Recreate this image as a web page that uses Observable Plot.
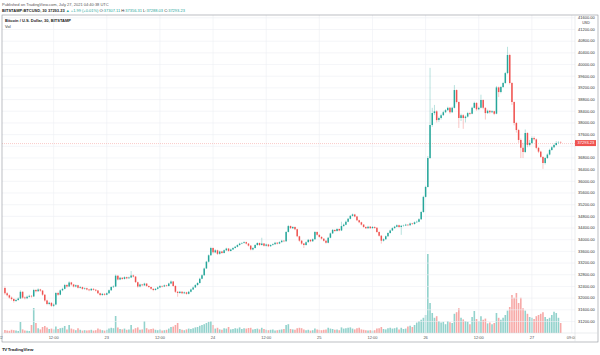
<!DOCTYPE html>
<html><head><meta charset="utf-8">
<script src="https://cdn.jsdelivr.net/npm/d3@7"></script>
<script src="https://cdn.jsdelivr.net/npm/@observablehq/plot@0.6"></script>
<style>
html,body{margin:0;padding:0;background:#fff;width:600px;height:355px;overflow:hidden}
#wrap{position:relative;width:600px;height:355px}
#wrap svg{position:absolute;left:0;top:0}
</style></head><body><div id="wrap"></div>
<script>
// 30-minute candles, BITSTAMP:BTCUSD, first candle 22 Jul 01:00
const startTime = "2021-07-22T01:00:00Z";
const opens = [32330,32150,32080,32000,31950,31880,31920,31970,32200,32000,31980,32030,32060,32040,32260,32220,32280,32240,32100,31900,31780,31820,31720,31760,32160,32100,32250,32300,32430,32380,32520,32450,32380,32420,32340,32360,32300,32320,32280,32250,32300,32270,32240,32150,32090,32130,32100,32150,32250,32360,32380,32750,32620,32680,32640,32700,32660,32690,32760,32720,32530,32380,32450,32420,32480,32400,32360,32300,32260,32300,32350,32400,32380,32420,32400,32480,32550,32400,32200,32160,32200,32150,32180,32130,32200,32280,32350,32430,32500,32650,32770,33000,33230,33450,33700,33550,33620,33500,33580,33530,33620,33680,33600,33650,33700,33740,33800,33850,33870,33900,33850,33780,33650,33700,33800,33870,33800,33850,33780,33820,33760,33800,33830,33880,33850,33900,33950,33930,34250,34450,34380,34420,34340,34100,33950,33850,33800,33900,33980,33930,34000,34250,34150,34080,34020,33950,33880,34050,34200,34320,34280,34350,34300,34450,34500,34600,34700,34800,34850,34780,34650,34580,34500,34420,34380,34430,34380,34420,34390,34250,34120,33950,34000,34100,34210,34300,34380,34430,34480,34420,34460,34470,34500,34480,34540,34520,34580,34600,34680,34930,35450,35790,36780,37910,38320,38380,38080,38150,38250,38350,38420,38500,38350,38500,39110,38700,38150,38250,38150,38200,38320,38300,38500,38670,38450,38500,38770,38500,38320,38400,38350,38380,38300,39200,39040,39210,39350,39690,40310,39350,38700,37980,37740,37400,37130,36990,37640,37230,37300,37470,37420,37130,37000,36820,36610,36780,36900,37060,37150,37230,37300,37307.11];
const highs = [32380,32190,32110,32040,31980,31960,32010,32250,32220,32040,32070,32100,32090,32300,32290,32320,32300,32260,32120,31930,31860,31850,31800,32190,32200,32280,32340,32470,32460,32560,32540,32470,32450,32440,32400,32380,32350,32340,32300,32330,32320,32290,32260,32170,32160,32150,32180,32280,32390,32420,32790,32770,32710,32700,32730,32720,32720,32910,32790,32740,32550,32480,32470,32510,32500,32420,32380,32320,32330,32380,32430,32420,32450,32440,32510,32590,32570,32420,32230,32230,32220,32210,32200,32230,32310,32380,32460,32530,32680,32800,33030,33260,33480,33740,33720,33660,33640,33610,33600,33650,33710,33700,33680,33730,33770,33830,33880,33900,33930,33920,33870,33800,33730,33830,33900,33890,34050,33870,33850,33840,33830,33860,33910,33900,33930,33980,33970,34280,34490,34470,34450,34440,34360,34120,33970,33870,33930,34010,34000,34030,34280,34270,34170,34100,34040,33970,34080,34230,34350,34340,34380,34370,34600,34540,34640,34730,34830,34880,34870,34800,34670,34600,34520,34440,34460,34450,34450,34440,34410,34270,34140,34030,34130,34240,34330,34410,34460,34510,34500,34490,34500,34530,34520,34570,34560,34610,34640,34720,34970,35490,35830,36850,39870,38500,38600,38420,38200,38300,38400,38460,38540,38530,38540,39280,39130,38720,38300,38280,38240,38360,38350,38540,38710,38690,38540,38950,38790,38520,38440,38420,38420,38400,39250,39230,39250,39390,39730,40590,40350,39380,38720,38020,37780,37450,37300,37760,37660,37400,37520,37520,37450,37160,37030,36850,36820,36940,37100,37190,37270,37360,37360,37356.31];
const lows = [32100,32040,31960,31900,31830,31850,31890,31950,31960,31940,31950,32000,32000,32020,32180,32200,32200,32060,31860,31740,31740,31680,31680,31740,32060,32080,32220,32280,32340,32360,32410,32350,32350,32310,32310,32270,32270,32250,32220,32230,32240,32210,32120,32050,32060,32070,32080,32130,32230,32330,32360,32590,32600,32610,32620,32630,32640,32670,32690,32500,32340,32350,32390,32400,32370,32330,32270,32220,32240,32280,32330,32350,32360,32370,32380,32460,32370,32160,32030,32130,32120,32120,32100,32110,32180,32260,32330,32410,32480,32630,32750,32980,33200,33430,33510,33520,33460,33470,33500,33510,33600,33570,33580,33630,33680,33720,33780,33830,33850,33820,33750,33620,33620,33680,33780,33770,33780,33750,33750,33730,33740,33780,33810,33820,33830,33880,33900,33910,34230,34350,34350,34310,34070,33910,33810,33700,33780,33880,33900,33910,33980,34120,34050,33990,33920,33850,33860,34030,34180,34250,34260,34270,34280,34430,34480,34580,34680,34780,34750,34620,34550,34470,34390,34350,34360,34350,34360,34360,34220,34090,33850,33920,33980,34080,34190,34280,34360,34410,34390,34150,34430,34450,34450,34460,34490,34500,34560,34580,34660,34910,35430,35770,36750,37850,38250,38000,38020,38100,38220,38320,38400,38300,38330,38480,38650,37810,38050,37780,38000,38170,38250,38280,38480,38400,38420,38480,38450,38100,38290,38300,38320,38250,38280,38870,39000,39180,39320,39650,39300,38600,37900,37650,37300,36780,36780,36950,37150,37180,37260,37380,37080,36950,36780,36410,36560,36750,36870,37030,37120,37200,37260,37288.03];
const closes = [32150,32080,32000,31950,31880,31920,31970,32200,32000,31980,32030,32060,32040,32260,32220,32280,32240,32100,31900,31780,31820,31720,31760,32160,32100,32250,32300,32430,32380,32520,32450,32380,32420,32340,32360,32300,32320,32280,32250,32300,32270,32240,32150,32090,32130,32100,32150,32250,32360,32380,32750,32620,32680,32640,32700,32660,32690,32760,32720,32530,32380,32450,32420,32480,32400,32360,32300,32260,32300,32350,32400,32380,32420,32400,32480,32550,32400,32200,32160,32200,32150,32180,32130,32200,32280,32350,32430,32500,32650,32770,33000,33230,33450,33700,33550,33620,33500,33580,33530,33620,33680,33600,33650,33700,33740,33800,33850,33870,33900,33850,33780,33650,33700,33800,33870,33800,33850,33780,33820,33760,33800,33830,33880,33850,33900,33950,33930,34250,34450,34380,34420,34340,34100,33950,33850,33800,33900,33980,33930,34000,34250,34150,34080,34020,33950,33880,34050,34200,34320,34280,34350,34300,34450,34500,34600,34700,34800,34850,34780,34650,34580,34500,34420,34380,34430,34380,34420,34390,34250,34120,33950,34000,34100,34210,34300,34380,34430,34480,34420,34460,34470,34500,34480,34540,34520,34580,34600,34680,34930,35450,35790,36780,37910,38320,38380,38080,38150,38250,38350,38420,38500,38350,38500,39110,38700,38150,38250,38150,38200,38320,38300,38500,38670,38450,38500,38770,38500,38320,38400,38350,38380,38300,39200,39040,39210,39350,39690,40310,39350,38700,37980,37740,37400,37130,36990,37640,37230,37300,37470,37420,37130,37000,36820,36610,36780,36900,37060,37150,37230,37300,37307.11,37293.23];
const volumes = [75,60,55,80,70,60,50,275,90,60,55,50,
200,625,250,120,90,
150,175,140,100,110,90,
160,100,120,130,175,90,200,110,
90,70,120,80,60,70,60,70,80,60,70,110,90,
70,60,80,110,130,120,
425,
140,100,90,110,80,90,200,90,120,140,80,90,
300,120,90,100,110,80,70,90,60,70,80,
110,150,160,200,250,100,80,70,90,110,
100,120,140,150,180,200,220,250,280,300,
200,110,130,90,80,120,110,150,90,100,120,110,140,100,120,
110,125,130,90,100,110,90,130,100,80,70,80,90,60,70,80,90,100,
200,220,
100,90,80,120,130,120,90,70,80,60,70,110,90,80,70,80,90,130,110,100,
80,90,70,140,110,120,130,140,110,90,120,130,90,80,70,60,70,60,70,110,
120,150,100,90,120,130,110,120,140,90,130,100,110,160,180,150,200,260,
300,330,380,450,
1975,
750,500,380,420,300,260,280,220,300,270,250,
480,520,620,380,340,300,280,220,
400,550,350,300,420,330,360,240,260,220,250,
500,380,330,380,450,560,
650,950,880,1000,750,880,620,
560,480,400,380,350,420,450,480,520,
400,350,380,450,530,500,380,250];

const tickTimes = ["2021-07-22T00:00Z","2021-07-22T12:00Z","2021-07-23T00:00Z","2021-07-23T12:00Z","2021-07-24T00:00Z","2021-07-24T12:00Z","2021-07-25T00:00Z","2021-07-25T12:00Z","2021-07-26T00:00Z","2021-07-26T12:00Z","2021-07-27T00:00Z","2021-07-27T09:00Z"];
const tickLabels = ["22","12:00","23","12:00","24","12:00","25","12:00","26","12:00","27","09:00"];
// horizontal grid levels
const priceTicks = [31200,31600,32000,32400,32800,33200,33600,34000,34400,34800,35200,35600,36000,36400,36800,37200,37600,38000,38400,38800,39200,39600,40000,40400,40800,41200,41600];
// price-scale labels shown (37200 is hidden behind the last-price tag)
const priceLabels = [31200,31600,32000,32400,32800,33200,33600,34000,34400,34800,35200,35600,36000,36400,36800,37600,38000,38400,38800,39200,39600,40000,40400,40800,41200,41600];
const lastPrice = 37293.23;
const viewStart = "2021-07-22T00:27Z", viewEnd = "2021-07-27T09:51Z";
const priceDomain = [30788, 41680];
const volumeDomain = [0, 2000];

const UP = "#26a69a", DN = "#ef5350";
const FONT = "'Liberation Sans', Arial, sans-serif";
const t0 = new Date(startTime);
const data = closes.map((c, i) => ({
  t: d3.utcMinute.offset(t0, 30 * i), o: opens[i], h: highs[i], l: lows[i], c, v: volumes[i]
}));
const ups = data.filter(d => d.c >= d.o), downs = data.filter(d => d.c < d.o);
const ticks = tickTimes.map(s => new Date(s));
const labelOf = new Map(ticks.map((d, i) => [+d, tickLabels[i]]));
const xDomain = [new Date(viewStart), new Date(viewEnd)];
const M = {width: 600, height: 355, marginLeft: 2, marginRight: 25, marginBottom: 22};

const volPlot = Plot.plot({
  ...M, marginTop: 253,
  style: {background: "transparent"},
  x: {type: "utc", domain: xDomain, axis: null},
  y: {domain: volumeDomain, axis: null},
  marks: [
    Plot.ruleX(ups, {x: "t", y1: 0, y2: "v", stroke: UP, strokeOpacity: 0.5, strokeWidth: 1.6}),
    Plot.ruleX(downs, {x: "t", y1: 0, y2: "v", stroke: DN, strokeOpacity: 0.5, strokeWidth: 1.6})
  ]
});

const pricePlot = Plot.plot({
  ...M, marginTop: 15,
  style: {background: "transparent", fontFamily: FONT, fontSize: "4px"},
  x: {type: "utc", domain: xDomain},
  y: {domain: priceDomain},
  marks: [
    Plot.gridY(priceTicks, {stroke: "#eceef3", strokeOpacity: 1, strokeWidth: 0.6}),
    Plot.gridX(ticks.slice(1), {stroke: "#eceef3", strokeOpacity: 1, strokeWidth: 0.6}),
    Plot.ruleY([lastPrice], {stroke: DN, strokeOpacity: 0.6, strokeWidth: 0.5, strokeDasharray: "1,1"}),
    Plot.ruleX(ups, {x: "t", y1: "l", y2: "h", stroke: UP, strokeOpacity: 0.55, strokeWidth: 0.6}),
    Plot.ruleX(downs, {x: "t", y1: "l", y2: "h", stroke: DN, strokeOpacity: 0.55, strokeWidth: 0.6}),
    Plot.ruleX(ups, {x: "t", y1: "o", y2: "c", stroke: UP, strokeWidth: 1.5}),
    Plot.ruleX(downs, {x: "t", y1: "o", y2: "c", stroke: DN, strokeWidth: 1.5}),
    Plot.axisY(priceLabels, {anchor: "right", tickSize: 0, tickPadding: 2.5, tickFormat: d => d.toFixed(2), fontSize: 4, fill: "#333", label: null}),
    Plot.axisX(ticks, {anchor: "bottom", tickSize: 0, tickPadding: 2.2, tickFormat: d => labelOf.get(+d), fontSize: 4, fill: "#555", label: null})
  ]
});

const wrap = document.getElementById("wrap");
wrap.appendChild(volPlot);
wrap.appendChild(pricePlot);

// Overlay: frame, header, labels
const svg = d3.select(wrap).append("svg").attr("width", 600).attr("height", 355)
  .style("font-family", FONT);
const xL = 2, xR = 598, yT = 15, yB = 342, xA = 575, yA = 333;
svg.append("rect").attr("x", xA + 0.3).attr("y", yA + 0.3).attr("width", xR - xA - 0.6).attr("height", yB - yA - 0.6).attr("fill", "#fff");
svg.append("rect").attr("x", xL).attr("y", yT).attr("width", xR - xL).attr("height", yB - yT)
  .attr("fill", "none").attr("stroke", "#8f939c").attr("stroke-width", 0.6);
svg.append("line").attr("x1", xA).attr("x2", xA).attr("y1", yT).attr("y2", yB).attr("stroke", "#d6d8de").attr("stroke-width", 0.5);
svg.append("line").attr("x1", xL).attr("x2", xR).attr("y1", yA).attr("y2", yA).attr("stroke", "#d6d8de").attr("stroke-width", 0.5);

svg.append("text").attr("x", 2).attr("y", 6.3).attr("font-size", 4).attr("fill", "#555")
  .text("Published on TradingView.com, July 27, 2021 04:40:38 UTC");
const l2 = svg.append("text").attr("x", 2).attr("y", 11.6).attr("font-size", 4).attr("fill", "#333");
[["BITSTAMP:BTCUSD, 30 ", "#222", 700], ["37293.23 ", "#222", 700], ["▲ +1.99 (+0.01%) ", UP, 400],
 ["O:", "#333", 400], ["37307.11 ", UP, 400], ["H:", "#333", 400], ["37356.31 ", UP, 400],
 ["L:", "#333", 400], ["37288.03 ", UP, 400], ["C:", "#333", 400], ["37293.23", UP, 400]]
  .forEach(([t, c, w]) => l2.append("tspan").attr("fill", c).attr("font-weight", w).text(t));
svg.append("text").attr("x", 5).attr("y", 22.2).attr("font-size", 4).attr("font-weight", 700).attr("fill", "#222")
  .text("Bitcoin / U.S. Dollar, 30, BITSTAMP");
svg.append("text").attr("x", 5).attr("y", 27.6).attr("font-size", 4).attr("fill", "#333").text("Vol");
svg.append("text").attr("x", 586).attr("y", 23.6).attr("font-size", 3.6).attr("text-anchor", "middle").attr("fill", "#333").text("USD");

const yLast = pricePlot.scale("y").apply(lastPrice);
svg.append("rect").attr("x", 575).attr("y", yLast - 3).attr("width", 21).attr("height", 6).attr("fill", DN);
svg.append("text").attr("x", 577.5).attr("y", yLast + 1.4).attr("font-size", 4).attr("fill", "#fff").text(lastPrice.toFixed(2));

const logo = svg.append("text").attr("x", 2).attr("y", 351).attr("font-size", 4.4).attr("font-weight", 700).attr("fill", "#131722");
logo.append("tspan").attr("font-weight", 900).attr("letter-spacing", -0.4).text("TV ");
logo.append("tspan").text("TradingView");
</script></body></html>
